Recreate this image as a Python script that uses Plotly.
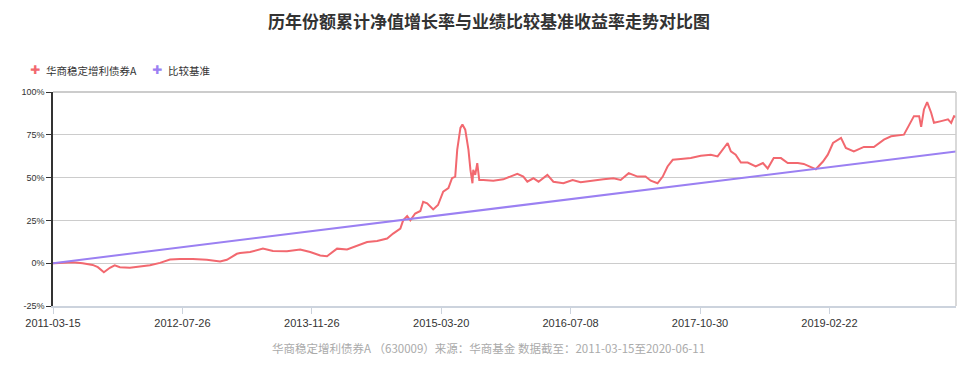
import plotly.graph_objects as go

# Category (trading-day) axis: tick labels every 323 trading days
tick_index = [0, 323, 646, 969, 1292, 1615, 1938]
tick_labels = ["2011-03-15", "2012-07-26", "2013-11-26", "2015-03-20",
               "2016-07-08", "2017-10-30", "2019-02-22"]
last_index = 2254

fund_name = "华商稳定增利债券A"
bench_name = "比较基准"

fund_x = [0, 4, 49, 74, 99, 112, 127, 142, 154, 167, 192, 217, 242, 267, 292, 317, 349, 384,
          417, 434, 459, 467, 492, 524, 549, 584, 617, 642, 667, 684, 709, 734, 759, 784,
          809, 834, 849, 867, 874, 884, 892, 904, 917, 924, 934, 942, 949, 961, 974, 987,
          996, 1004, 1009, 1017, 1022, 1029, 1037, 1042, 1047, 1049, 1054, 1059, 1064, 1074,
          1099, 1124, 1159, 1174, 1184, 1199, 1212, 1234, 1249, 1274, 1297, 1317, 1342, 1374,
          1399, 1417, 1437, 1459, 1479, 1492, 1509, 1522, 1534, 1547, 1567, 1592, 1617, 1642,
          1659, 1674, 1684, 1692, 1704, 1717, 1734, 1754, 1772, 1784, 1799, 1817, 1834, 1859,
          1874, 1892, 1904, 1922, 1934, 1947, 1967, 1979, 1999, 2024, 2049, 2074, 2092, 2124,
          2137, 2149, 2162, 2167, 2174, 2182, 2192, 2199, 2217, 2234, 2242, 2249, 2254]
fund_y = [0, 0, 0.5, 0, -1, -2.3, -5.3, -2.7, -1.2, -2.3, -2.7, -2, -1.2, 0.2, 2.1, 2.5, 2.5, 2,
          1, 2, 5.5, 5.9, 6.5, 8.5, 7.1, 7, 8, 6.5, 4.5, 4.1, 8.5, 8, 10, 12.4,
          13, 14.4, 17.3, 20.2, 25, 27.5, 25, 29, 30.5, 35.9, 35, 33, 31.4, 34, 41.8, 43.8,
          49.7, 50.6, 66.3, 79, 81, 78, 66.3, 54.5, 46.7, 54.5, 51.6, 58.5, 48.6, 48.6,
          48.2, 49, 52.2, 50.6, 47.6, 49.6, 47.6, 51.6, 47.6, 46.7, 48.6, 47.3, 48.2, 49,
          49.6, 48.6, 52.6, 50.6, 50.6, 48.2, 46.7, 50.6, 56.5, 60.4, 60.8, 61.4, 62.7, 63.4,
          62.4, 67.3, 70.2, 65.3, 63.4, 58.8, 58.8, 56.5, 58.5, 55.3, 61.4, 61.4, 58.5, 58.5,
          58, 56.1, 54.9, 59.4, 63.4, 70.2, 73.2, 67.3, 65.3, 67.9, 67.9, 72.2, 74.1, 75.1,
          81, 85.9, 85.9, 79.6, 89.8, 94.1, 87.9, 82, 83, 84, 82, 85.9, 85.5]

bench_x = [0, 2254]
bench_y = [0, 65.3]

y_ticks = [-25, 0, 25, 50, 75, 100]

red = "#f2686f"
purple = "#9b80f2"

# layout geometry in page pixels; the page body adds an 8px offset
OFF = 8
W, H = 978 - OFF, 381 - OFF
PLOT_L, PLOT_R, PLOT_T, PLOT_B = 53.3, 955.7, 91.7, 305.7
ML = PLOT_L - OFF
MT = PLOT_T - OFF
MR = W - (PLOT_R - OFF)
MB = H - (PLOT_B - OFF)
PW, PH = PLOT_R - PLOT_L, PLOT_B - PLOT_T


def px_x(px):
    return (px - PLOT_L) / PW


def px_y(py):
    return (PLOT_B - py) / PH


fig = go.Figure()
fig.add_trace(go.Scatter(x=fund_x, y=fund_y, mode="lines", line=dict(color=red, width=2),
                         name=fund_name, showlegend=False, hoverinfo="skip"))
fig.add_trace(go.Scatter(x=bench_x, y=bench_y, mode="lines", line=dict(color=purple, width=2),
                         name=bench_name, showlegend=False, hoverinfo="skip"))

legend_items = [(fund_name, red, 35, 44), (bench_name, purple, 157, 166)]
annotations = []
for name, col, mx, tx in legend_items:
    annotations.append(dict(text="✚", xref="paper", yref="paper", x=px_x(mx), y=px_y(70),
                            xanchor="center", yanchor="middle", showarrow=False,
                            font=dict(size=12, color=col, family="DejaVu Sans")))
    annotations.append(dict(text=name, xref="paper", yref="paper", x=px_x(tx), y=px_y(70),
                            xanchor="left", yanchor="middle", showarrow=False,
                            font=dict(size=10.5, color="#333")))
annotations.append(dict(text="华商稳定增利债券A （630009）来源：华商基金 数据截至：2011-03-15至2020-06-11",
                        xref="paper", yref="paper", x=px_x(489), xanchor="center",
                        y=px_y(348), yanchor="middle", showarrow=False,
                        font=dict(size=11.5, color="#aaaaaa")))

fig.update_layout(
    width=W, height=H,
    margin=dict(l=ML, r=MR, t=MT, b=MB, autoexpand=False),
    paper_bgcolor="white", plot_bgcolor="white",
    font=dict(family="Noto Sans CJK SC, sans-serif", color="#333"),
    showlegend=False,
    title=dict(text="<b>历年份额累计净值增长率与业绩比较基准收益率走势对比图</b>",
               x=px_x(489), xanchor="center", xref="paper",
               y=1 - (22 - OFF) / H, yanchor="middle",
               font=dict(size=17, color="#333")),
    xaxis=dict(range=[0, last_index], tickmode="array", tickvals=tick_index,
               ticktext=tick_labels, showgrid=False, zeroline=False,
               showline=True, linecolor="#ccd3dd", linewidth=2,
               ticks="outside", ticklen=6, tickcolor="#ccd3dd",
               tickfont=dict(size=11, color="#333", family="Liberation Sans, sans-serif")),
    yaxis=dict(range=[-25, 100], tickmode="array", tickvals=y_ticks,
               ticktext=[f"{v}%" for v in y_ticks],
               showgrid=True, gridcolor="#cccccc", gridwidth=1, zeroline=False,
               showline=True, linecolor="#333", linewidth=1.5,
               ticks="outside", ticklen=5, tickcolor="#333",
               tickfont=dict(size=9, color="#333", family="Liberation Sans, sans-serif")),
    shapes=[dict(type="line", xref="paper", yref="paper", x0=1, x1=1, y0=0, y1=1,
                 line=dict(color="#cccccc", width=1.5)),
            dict(type="line", xref="paper", yref="paper", x0=0, x1=1, y0=1, y1=1,
                 line=dict(color="#cccccc", width=2))],
    annotations=annotations,
)

fig.write_html("out.html")
